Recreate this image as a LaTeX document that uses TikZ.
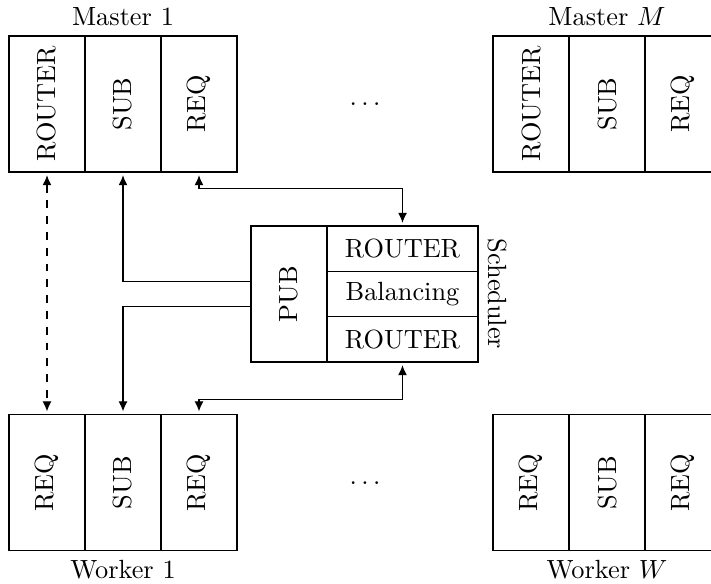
\documentclass[tikz,border=0pt]{standalone}
\usepackage{graphicx}
\usetikzlibrary{calc,arrows.meta}
\begin{document}
\begin{tikzpicture}[x=0.38pt,y=-0.38pt,
  cell/.style={draw,inner sep=0pt,minimum width=28.88pt,minimum height=51.68pt},
  rowcell/.style={draw,inner sep=0pt,minimum width=57.38pt,minimum height=17.23pt},
  arr/.style={-{Latex[length=3.8pt,width=3.4pt]},shorten >=1pt},
  darr/.style={{Latex[length=3.8pt,width=3.4pt]}-{Latex[length=3.8pt,width=3.4pt]},shorten >=1pt,shorten <=1pt}]
\useasboundingbox (0,0) rectangle (711,583);
\clip (0,0) rectangle (711,583);
% Master 1
\node[cell] (m1r) at (47,104) {\rotatebox{90}{ROUTER}};
\node[cell] (m1s) at (123,104) {\rotatebox{90}{SUB}};
\node[cell] (m1q) at (199,104) {\rotatebox{90}{REQ}};
% Master M
\node[cell] (mMr) at (531,104) {\rotatebox{90}{ROUTER}};
\node[cell] (mMs) at (607,104) {\rotatebox{90}{SUB}};
\node[cell] (mMq) at (683,104) {\rotatebox{90}{REQ}};
% Worker 1
\node[cell] (w1a) at (47,482.5) {\rotatebox{90}{REQ}};
\node[cell] (w1s) at (123,482.5) {\rotatebox{90}{SUB}};
\node[cell] (w1q) at (199,482.5) {\rotatebox{90}{REQ}};
% Worker W
\node[cell] (wWa) at (531,482.5) {\rotatebox{90}{REQ}};
\node[cell] (wWs) at (607,482.5) {\rotatebox{90}{SUB}};
\node[cell] (wWq) at (683,482.5) {\rotatebox{90}{REQ}};
% labels
\node[above] (lm1) at (m1s.north) {Master 1};
\node[above] (lmM) at (mMs.north) {Master $M$};
\node[below] (lw1) at (w1s.south) {Worker 1};
\node[below] (lwW) at (wWs.south) {Worker $W$};
% dots
\node (d1) at (365,104) {$\ldots$};
\node (d2) at (365,483) {$\ldots$};
% Scheduler
\node[cell] (pub) at (289,294) {\rotatebox{90}{PUB}};
\node[rowcell] (sr1) at (402.5,248.67) {ROUTER};
\node[rowcell] (sr2) at (402.5,294) {Balancing};
\node[rowcell] (sr3) at (402.5,339.33) {ROUTER};
\node[rotate=-90,anchor=south] (schl) at (sr2.east) {Scheduler};
% connectors
\draw[darr,dashed] (m1r) -- (w1a);
\draw[arr] ($(pub.west)+(0,-12.5)$) -| (m1s);
\draw[arr] ($(pub.west)+(0,12.5)$) -| (w1s);
\draw[darr] (m1q.south) -- ++(0,16) -| (sr1);
\draw[darr] (sr3.south) -- ++(0,37) -| (w1q);
\end{tikzpicture}
\end{document}
